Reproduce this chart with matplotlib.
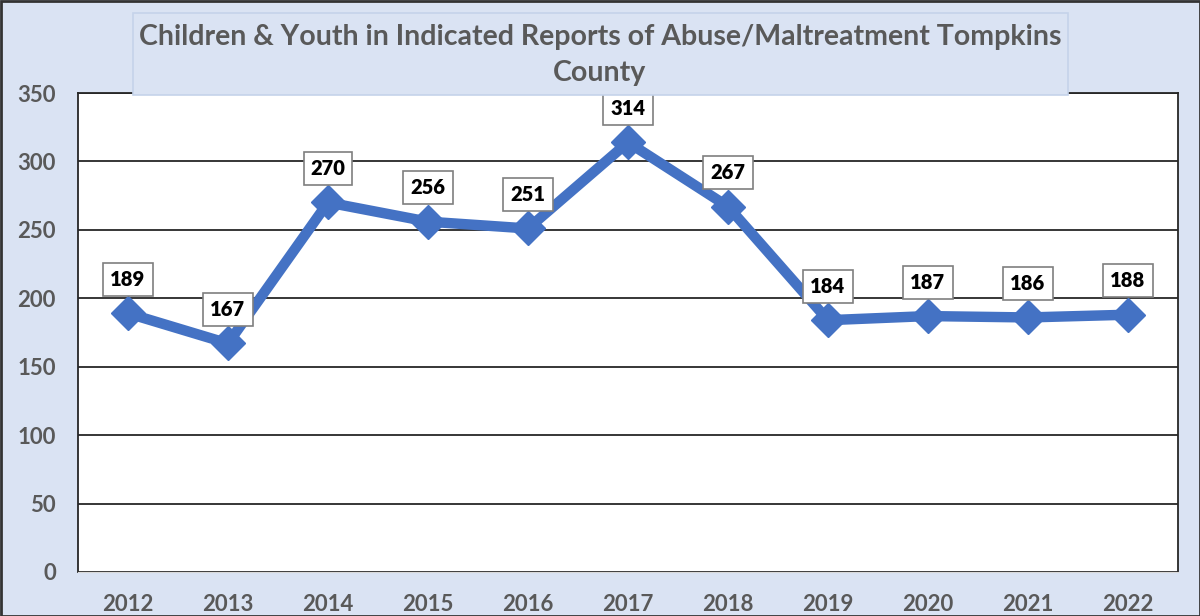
import matplotlib.pyplot as plt
from matplotlib.patches import Rectangle

years = ['2012', '2013', '2014', '2015', '2016', '2017', '2018', '2019', '2020', '2021', '2022']
counts = [189, 167, 270, 256, 251, 314, 267, 184, 187, 186, 188]
title = 'Children & Youth in Indicated Reports of Abuse/Maltreatment Tompkins\nCounty'

plt.rcParams['font.family'] = ['Lato', 'DejaVu Sans']

bg = '#DAE3F3'
blue = '#4472C4'
grey = '#595959'

fig = plt.figure(figsize=(12, 6.16), dpi=100, facecolor=bg)
W, H = 1200, 616
ax = fig.add_axes([78 / W, 1 - 572 / H, 1100 / W, (572 - 93) / H])
ax.set_facecolor('white')

x = list(range(len(years)))
ax.plot(x, counts, color=blue, lw=7.5, marker='D', ms=17, mfc=blue, mec=blue, zorder=3)

for xi, v in zip(x, counts):
    ax.annotate(str(v), (xi, v), xytext=(0, 34), textcoords='offset pixels',
                ha='center', va='center', fontsize=14.5, fontweight='heavy', color='black',
                bbox=dict(boxstyle='square,pad=0.35', fc='white', ec='#7f7f7f', lw=1.2),
                zorder=4)

ax.set_xlim(-0.5, len(years) - 0.5)
ax.set_ylim(0, 350)
ax.set_yticks(range(0, 351, 50))
ax.set_xticks(x)
ax.set_xticklabels(years)
ax.yaxis.grid(True, color='#262626', lw=1.3)
ax.set_axisbelow(True)
ax.tick_params(length=0, labelsize=16, labelcolor=grey)
ax.tick_params(axis='x', pad=16)
ax.tick_params(axis='y', pad=16)
for lab in ax.get_xticklabels() + ax.get_yticklabels():
    lab.set_fontweight('bold')
for s in ['left', 'right', 'top']:
    ax.spines[s].set_color('#262626')
    ax.spines[s].set_linewidth(1.3)
ax.spines['bottom'].set_color('#d9d9d9')

# title box
fig.patches.append(Rectangle((133 / W, 1 - 95 / H), (1068 - 133) / W, (95 - 13) / H,
                             transform=fig.transFigure, fc=bg, ec='#c5d3ea', lw=1.2, zorder=5))
fig.text(600 / W, 1 - 55 / H, title, ha='center', va='center', fontsize=20.5,
         fontweight='bold', color=grey, linespacing=1.45, zorder=6)

# outer border
fig.patches.append(Rectangle((0.5 / W, 0.5 / H), 1 - 1 / W, 1 - 1 / H,
                             transform=fig.transFigure, fill=False, ec='#333333', lw=2))

fig.savefig('out.png', dpi=100, facecolor=bg)
